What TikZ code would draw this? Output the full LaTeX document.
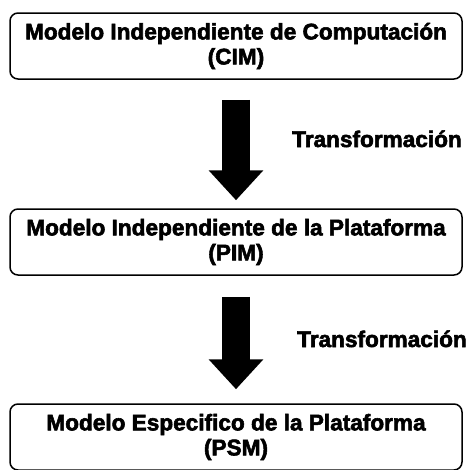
\documentclass[tikz,border=0pt]{standalone}
\usepackage{fontspec}
\setmainfont{Liberation Sans}
\newfontfamily\heavyfont{Liberation Sans Bold}[FakeBold=2.5]
\usetikzlibrary{arrows.meta}
\tikzset{
  model/.style={draw=black, line width=1.5pt, rounded corners=8pt, minimum width=452pt, minimum height=66pt, inner sep=0pt, align=center, font=\fontsize{22.6}{25}\heavyfont},
  bigarrow/.style={line width=28pt, -{Triangle[width=53pt,length=30pt]}},
  lbl/.style={font=\fontsize{22.6}{25}\heavyfont, inner sep=0pt}
}
\begin{document}
\begin{tikzpicture}[x=1pt,y=-1pt]
\useasboundingbox (0,0) rectangle (471,469);
\node[model] (cim) at (236,46) {Modelo Independiente de Computación\\(CIM)};
\node[model] (pim) at (236,242) {Modelo Independiente de la Plataforma\\(PIM)};
\node[model] (psm) at (236,437) {Modelo Especifico de la Plataforma\\(PSM)};
\draw[bigarrow] ([yshift=-20pt]cim.south) -- ([yshift=8pt]pim.north);
\draw[bigarrow] ([yshift=-21pt]pim.south) -- ([yshift=14pt]psm.north);
\node[lbl, anchor=base] (t1) at (377,147) {Transformación};
\node[lbl, anchor=base] (t2) at (382,347) {Transformación};
\end{tikzpicture}
\end{document}
